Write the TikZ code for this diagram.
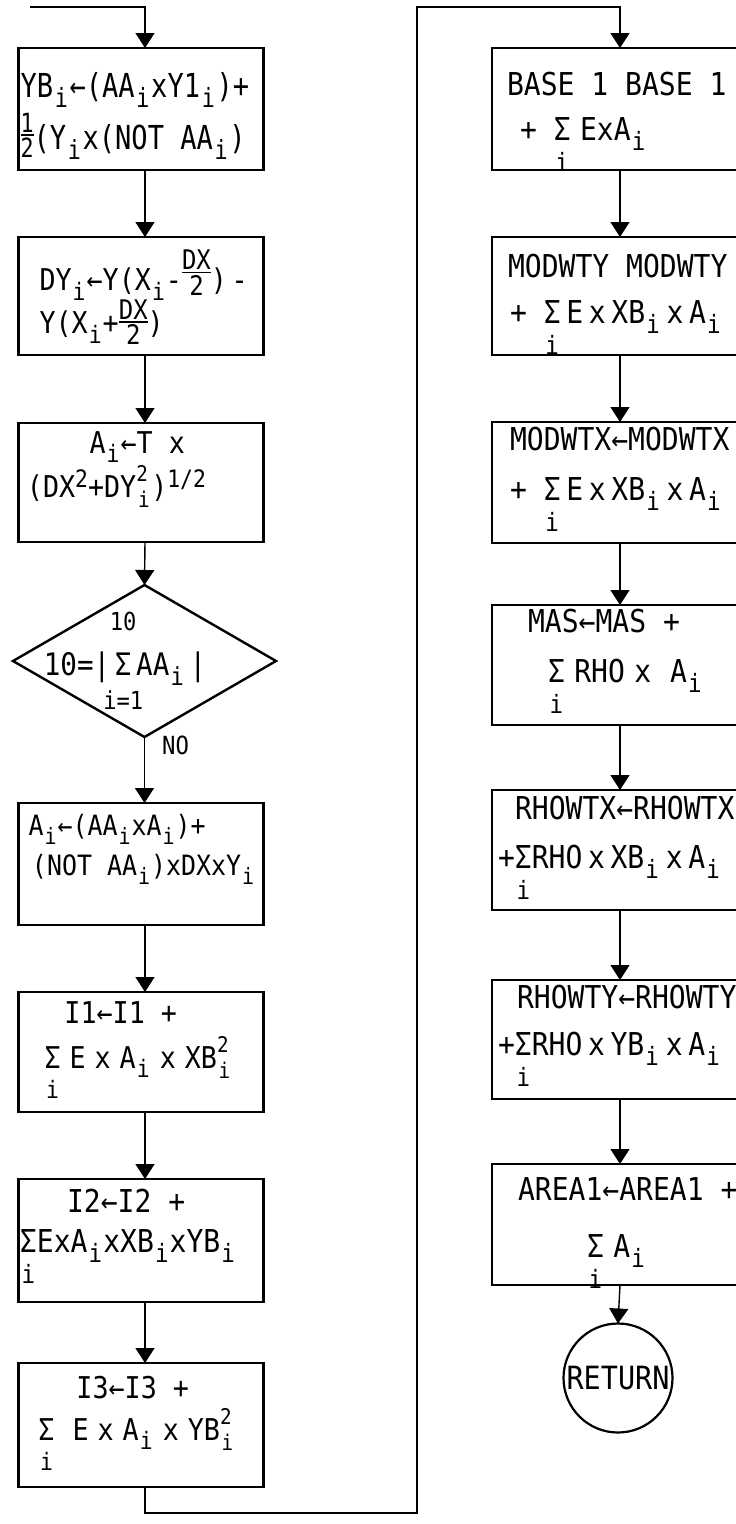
\documentclass[tikz,border=0pt]{standalone}
\usepackage{fontspec}
\usepackage{graphicx}
\usetikzlibrary{arrows.meta,shapes.geometric}
\newfontfamily\tw[FakeStretch=0.89]{DejaVu Sans Mono}
\newfontfamily\twn[FakeStretch=0.82]{DejaVu Sans Mono}
\newcommand{\fa}{\tw\fontsize{30}{34}\selectfont}
\newcommand{\fc}{\tw\fontsize{28}{32}\selectfont}
\newcommand{\fb}{\tw\fontsize{31.5}{36}\selectfont}
\newcommand{\fone}{\twn\fontsize{33}{38}\selectfont}
\newcommand{\fdia}{\tw\fontsize{31}{36}\selectfont}
\newcommand{\hs}{\hspace{0.3em}}
\newcommand{\hn}{\hspace{0.18em}}
\newcommand{\dn}[1]{\makebox[0.5em][c]{\lower0.33em\hbox{\scalebox{0.8}{#1}}}}
\newcommand{\up}[1]{\raise0.33em\hbox{\scalebox{0.8}{#1}}}
\newcommand{\ud}[2]{\rlap{\raise0.52em\hbox{\scalebox{0.72}{#1}}}\makebox[0.5em][c]{\lower0.36em\hbox{\scalebox{0.72}{#2}}}}
\newcommand{\sumi}{\setbox2\hbox{Σ}\rlap{\hbox to\wd2{\hss\lower1.0em\hbox{\scalebox{0.8}{i}}\hss}}\box2}
\newcommand{\sumlim}[2]{\setbox2\hbox{Σ}\rlap{\hbox to\wd2{\hss\raise1.45em\hbox{\scalebox{0.8}{#1}}\hss}}\rlap{\hbox to\wd2{\hss\lower1.1em\hbox{\scalebox{0.8}{#2}}\hss}}\box2}
\newcommand{\frc}[4][0.38em]{\setbox0\vbox{\offinterlineskip\halign{\hfil##\hfil\cr\scalebox{#2}{#3}\cr\noalign{\kern2pt\hrule height1.4pt\kern2pt}\scalebox{#2}{#4}\cr}}\raise\dimexpr#1-(\ht0-\dp0)/2\relax\box0}
\newcommand{\boxtext}[5]{\begin{minipage}[c][#2][t]{#1}\setlength{\baselineskip}{#4}\setlength{\lineskiplimit}{-100pt}\vspace*{\dimexpr#3-40pt\relax}\noindent\rule{0pt}{40pt}#5\par\end{minipage}}
\newcommand{\nl}[1]{\par\noindent\hspace*{#1}}
\tikzset{
  pbox/.style={draw, line width=2.7pt, inner sep=0pt, outer sep=0pt},
  dia/.style={diamond, draw, line width=2.4pt, minimum width=263pt, minimum height=152pt, inner sep=0pt, outer sep=0pt, font=\fdia},
  circ/.style={circle, draw, line width=2.2pt, minimum size=109pt, inner sep=0pt, outer sep=0pt, font=\tw\fontsize{32}{36}\selectfont},
  conn/.style={line width=1.4pt},
  arr/.style={conn, -{Triangle[width=19pt,length=15pt]}},
  nolab/.style={inner sep=0pt, font=\tw\fontsize{25}{29}\selectfont}
}
\begin{document}
\begin{tikzpicture}[x=1pt,y=-1pt]
\useasboundingbox (0,0) rectangle (736,1524);
\fill[white] (0,0) rectangle (736,1524);
\coordinate (Lx) at (145,0);
% left column
\node[pbox] (b1) at (141,109) {\fone\boxtext{245pt}{122pt}{49pt}{52pt}{\hspace*{2pt}\mbox{YB\dn{i}←(AA\dn{i}xY1\dn{i})+}\nl{2pt}\mbox{\frc[0.42em]{0.8}{1}{2}(Y\dn{i}x(NOT AA\dn{i})}}};
\node[pbox] (b2) at (141,296) {\fa\boxtext{245pt}{118pt}{53pt}{43pt}{\hspace*{21pt}\mbox{DY\dn{i}←Y(X\dn{i}-\frc[0.6em]{0.9}{DX}{2})\hspace{0.15em}-}\nl{21pt}\mbox{Y(X\dn{i}+\frc{0.9}{DX}{2})}}};
\node[pbox] (b3) at (141,482.5) {\fa\boxtext{245pt}{119pt}{30pt}{44pt}{\hspace*{71pt}\mbox{A\dn{i}←T x}\nl{8.5pt}\mbox{(DX\up{2}+DY\ud{2}{i})\up{1/2}}}};
\node[dia] (d) at (144.5,661) {\makebox[0pt]{\smash{\lower14pt\hbox{\kern-39pt 10=|\hspace{0.15em}\sumlim{10}{i=1}\hspace{0.15em}AA\dn{i}\hspace{0.15em}|}}}};
\node[pbox] (b4) at (141,864) {\fc\boxtext{245pt}{122pt}{32pt}{40pt}{\hspace*{10pt}\mbox{A\dn{i}←(AA\dn{i}xA\dn{i})+}\nl{13.5pt}\mbox{(NOT AA\dn{i})xDXxY\dn{i}}}};
\node[pbox] (b5) at (141,1052) {\fa\boxtext{245pt}{120pt}{31pt}{45pt}{\hspace*{46pt}\mbox{I1←I1 +}\nl{26pt}\mbox{\sumi\hs E\hs x\hs A\dn{i}\hs x\hs XB\ud{2}{i}}}};
\node[pbox] (b6) at (141,1240.5) {\fb\boxtext{245pt}{123pt}{33pt}{40pt}{\hspace*{48.5pt}\mbox{I2←I2 +}\nl{1.5pt}\mbox{\sumi ExA\dn{i}xXB\dn{i}xYB\dn{i}}}};
\node[pbox] (b7) at (141,1425) {\fa\boxtext{245pt}{124pt}{35pt}{42pt}{\hspace*{58pt}\mbox{I3←I3 +}\nl{20pt}\mbox{\sumi\hs\hs E\hs x\hs A\dn{i}\hs x\hs YB\ud{2}{i}}}};
% right column
\node[pbox] (r1) at (620,109) {\fb\boxtext{256pt}{122pt}{47pt}{45pt}{\hspace*{15pt}\mbox{BASE 1 BASE 1}\nl{28pt}\mbox{+ \sumi\hs ExA\dn{i}}}};
\node[pbox] (r2) at (620,296) {\fb\boxtext{256pt}{118pt}{40pt}{46pt}{\hspace*{16pt}\mbox{MODWTY MODWTY}\nl{18pt}\mbox{+ \sumi\hn E\hn x\hn XB\dn{i}\hn x\hn A\dn{i}}}};
\node[pbox] (r3) at (620,482.5) {\fb\boxtext{256pt}{121pt}{28pt}{50pt}{\hspace*{18pt}\mbox{MODWTX←MODWTX}\nl{18pt}\mbox{+ \sumi\hn E\hn x\hn XB\dn{i}\hn x\hn A\dn{i}}}};
\node[pbox] (r4) at (620,665) {\fb\boxtext{256pt}{120pt}{27pt}{50pt}{\hspace*{36pt}\mbox{MAS←MAS +}\nl{56pt}\mbox{\sumi\hs RHO\hs x\hs\hs A\dn{i}}}};
\node[pbox] (r5) at (620,850) {\fb\boxtext{256pt}{120pt}{29pt}{49pt}{\hspace*{23pt}\mbox{RHOWTX←RHOWTX}\nl{6pt}\mbox{+\sumi RHO\hn x\hn XB\dn{i}\hn x\hn A\dn{i}}}};
\node[pbox] (r6) at (620,1039.5) {\fb\boxtext{256pt}{119pt}{28pt}{47pt}{\hspace*{25pt}\mbox{RHOWTY←RHOWTY}\nl{6pt}\mbox{+\sumi RHO\hn x\hn YB\dn{i}\hn x\hn A\dn{i}}}};
\node[pbox] (r7) at (620,1224.5) {\fb\boxtext{256pt}{121pt}{36pt}{57pt}{\hspace*{26pt}\mbox{AREA1←AREA1 +}\nl{95pt}\mbox{\sumi\hs A\dn{i}}}};
\node[circ] (ret) at (618,1378) {\makebox[0pt]{RETURN}};
% connectors
\coordinate (st) at (30,7);
\coordinate (lb) at (417,1513);
\coordinate (lt) at (417,7);
\draw[arr] (st) -| (b1.north -| Lx);
\draw[arr] (b1.south -| Lx) -- (b2.north -| Lx);
\draw[arr] (b2.south -| Lx) -- (b3.north -| Lx);
\draw[arr] (b3.south -| Lx) -- (d.north);
\draw[arr] (d.south) -- node[nolab, pos=0.12, anchor=west, xshift=17pt] (no) {NO} (b4.north -| d.south);
\draw[arr] (b4.south -| Lx) -- (b5.north -| Lx);
\draw[arr] (b5.south -| Lx) -- (b6.north -| Lx);
\draw[arr] (b6.south -| Lx) -- (b7.north -| Lx);
\draw[arr] (b7.south -| Lx) |- (lb) -- (lt) -| (r1.north);
\draw[arr] (r1.south) -- (r2.north);
\draw[arr] (r2.south) -- (r3.north);
\draw[arr] (r3.south) -- (r4.north);
\draw[arr] (r4.south) -- (r5.north);
\draw[arr] (r5.south) -- (r6.north);
\draw[arr] (r6.south) -- (r7.north);
\draw[arr] (r7.south) -- (ret.north);
\end{tikzpicture}
\end{document}
